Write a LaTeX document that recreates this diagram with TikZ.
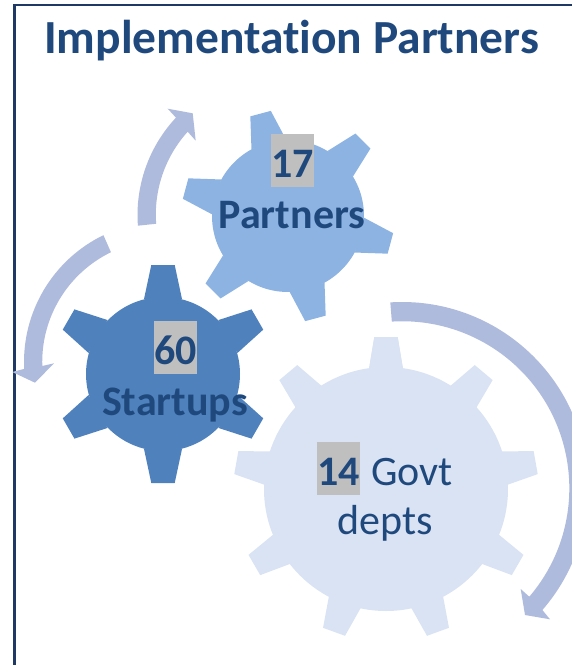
\documentclass[tikz,border=0pt]{standalone}
\usepackage{fontspec}
\setmainfont[RawFeature={-liga}]{Carlito}
\usepackage{xcolor}
\definecolor{framenavy}{HTML}{1F3864}
\definecolor{textblue}{HTML}{1F497D}
\definecolor{geardark}{HTML}{4F81BD}
\definecolor{gearmid}{HTML}{8DB3E2}
\definecolor{gearlight}{HTML}{DAE3F3}
\definecolor{arcblue}{HTML}{AFBBDD}
\definecolor{boxgray}{HTML}{BFBFBF}
\tikzset{
    bignum/.style={fill=boxgray, text=textblue, font=\fontsize{42}{42}\selectfont\bfseries, inner xsep=0pt, inner ysep=0pt, minimum width=43pt, text height=43pt, text depth=10pt},
    gearword/.style={anchor=base, text=textblue, font=\fontsize{42}{42}\selectfont\bfseries, inner sep=0pt},
    govtword/.style={text=textblue, font=\fontsize{42}{42}\selectfont, inner sep=0pt}
}
\begin{document}
\begin{tikzpicture}[x=1pt, y=-1pt]
    \useasboundingbox (0,0) rectangle (572,665);

    \draw[framenavy, line width=2.5pt] (14.5,665) -- (14.5,5) -- (572,5);

    \node[anchor=base west, text=textblue, font=\fontsize{47.5}{47.5}\selectfont\bfseries, inner sep=0pt] (title) at (44,53.5) {Implementation Partners};

    % arcs
    \fill[arcblue] (402,488) ++(-93.6:186) arc[start angle=-93.6, end angle=41, radius=186]
        -- (550,619.3) -- (525,615) -- (520.7,589) -- (529.3,596.7)
        arc[start angle=40.5, end angle=-93.6, radius=167] -- cycle;
    \fill[arcblue] (280,215) ++(175.7:142.5) arc[start angle=175.7, end angle=223.1, radius=142.5]
        -- (167.7,108.7) -- (192.7,113.3) -- (195.7,140.7) -- (187.7,131.7)
        arc[start angle=222.1, end angle=175.7, radius=123.5] -- cycle;
    \fill[arcblue] (165,362) ++(244.1:141) arc[start angle=244.1, end angle=177.2, radius=141]
        -- (12.3,372) -- (35,382.7) -- (54,363.3) -- (42.3,366)
        arc[start angle=178.1, end angle=244.1, radius=122] -- cycle;

    % gears
    \fill[gearlight] (386,489) circle (122);
    \foreach \a in {-90,-50,...,270}
        \fill[gearlight, shift={(386,489)}, rotate=-\a] (120,-17) -- (152,-11.7) -- (152,11.7) -- (120,17) -- cycle;

    \fill[gearmid] (288,216) circle (76);
    \foreach \a in {15,75,...,315}
        \fill[gearmid, shift={(288,216)}, rotate=-\a] (74,-18) -- (106,-10.6) -- (106,10.6) -- (74,18) -- cycle;

    \fill[geardark] (163,374) circle (77);
    \foreach \a in {-90,-30,...,210}
        \fill[geardark, shift={(163,374)}, rotate=-\a] (75,-19) -- (109,-11.7) -- (109,11.7) -- (75,19) -- cycle;

    % labels
    \node[bignum] (partnersnum) at (292.5,160.5) {17};
    \node[gearword] (partners) at (292,228) {Partners};

    \node[bignum] (startupsnum) at (175.5,347.5) {60};
    \node[gearword] (startups) at (175,415.5) {Startups};

    \node[bignum] (govtnum) at (338.5,468.5) {14};
    \node[govtword, anchor=base west] (govt) at (371,485) {Govt};
    \node[govtword, anchor=base] (depts) at (385,534.5) {depts};
\end{tikzpicture}
\end{document}
